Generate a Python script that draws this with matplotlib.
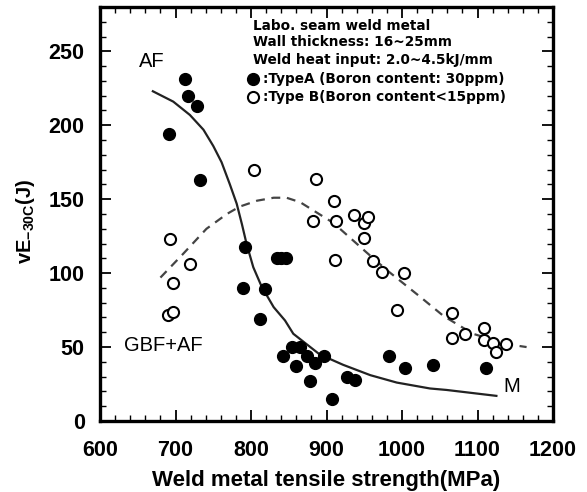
import numpy as np
import matplotlib.pyplot as plt

# ==============================
# DATA
# ==============================

# Type A (Boron 30ppm) - filled
typeA_ts = [713, 716, 729, 691, 732, 792, 790, 818, 812, 834, 840, 846,
            843, 854, 865, 874, 860, 885, 897, 878, 907, 927, 938,
            983, 1004, 1041, 1111]
typeA_ve = [231, 220, 213, 194, 163, 118, 90, 89, 69, 110, 110, 110,
            44, 50, 50, 44, 37, 39, 44, 27, 15, 30, 28,
            44, 36, 38, 36]

# Type B (Boron <15ppm) - open
typeB_ts = [804, 886, 910, 882, 912, 937, 949, 955, 950, 693, 719, 697,
            690, 697, 911, 962, 974, 1002, 993, 1066, 1066, 1083, 1108,
            1108, 1121, 1125, 1138]
typeB_ve = [170, 164, 149, 135, 135, 139, 134, 138, 124, 123, 106, 93,
            72, 74, 109, 108, 101, 100, 75, 73, 56, 59, 63,
            55, 53, 47, 52]

# trend lines
af_ts = [670, 697, 719, 737, 750, 761, 772, 781, 788, 794, 803, 814, 830, 845,
         856, 891, 922, 958, 993, 1037, 1059, 1125]
af_ve = [223, 216, 207, 197, 186, 175, 160, 147, 133, 120, 104, 91, 77, 68,
         59, 45, 38, 31, 26, 22, 21, 17]

gbf_ts = [680, 710, 741, 768, 785, 808, 830, 847, 865, 887, 909, 931, 953, 980,
          1024, 1055, 1094, 1139, 1165]
gbf_ve = [97, 113, 130, 140, 145, 149, 151, 151, 148, 141, 134, 124, 114, 102,
          84, 71, 59, 52, 50]

xticks = [600, 700, 800, 900, 1000, 1100, 1200]
yticks = [0, 50, 100, 150, 200, 250]

# ==============================
# PLOT
# ==============================

plt.rcParams['font.family'] = ['Liberation Sans', 'DejaVu Sans']
plt.rcParams['mathtext.fontset'] = 'custom'
plt.rcParams['mathtext.rm'] = 'Liberation Sans:bold'
plt.rcParams['mathtext.bf'] = 'Liberation Sans:bold'

fig = plt.figure(figsize=(5.87, 4.92), dpi=100)
ax = fig.add_axes([0.1704, 0.1443, 0.7717, 0.8415])

ax.plot(af_ts, af_ve, color='#222222', lw=1.6)
ax.plot(gbf_ts, gbf_ve, color='#444444', lw=1.6, linestyle=(0, (4, 3)))

ax.plot(typeA_ts, typeA_ve, 'o', color='black', markersize=8.5, zorder=3)
ax.plot(typeB_ts, typeB_ve, 'o', markerfacecolor='white', markeredgecolor='black',
        markeredgewidth=1.5, markersize=8, zorder=3)

ax.set_xlim(600, 1200)
ax.set_ylim(0, 280)
ax.set_xticks(xticks)
ax.set_yticks(yticks)
ax.set_xticks(np.arange(600, 1201, 20), minor=True)
ax.set_yticks(np.arange(0, 281, 10), minor=True)
ax.tick_params(which='both', direction='in', top=True, right=True, labelsize=15.5)
ax.tick_params(axis='x', which='major', pad=14)
ax.tick_params(axis='y', which='major', pad=11)
ax.tick_params(which='major', length=8, width=1.3)
ax.tick_params(which='minor', length=4, width=1.0)
for lbl in ax.get_xticklabels() + ax.get_yticklabels():
    lbl.set_fontweight('bold')
for sp in ax.spines.values():
    sp.set_linewidth(2.4)

ax.set_xlabel('Weld metal tensile strength(MPa)', fontsize=16, fontweight='bold', labelpad=6)
ax.set_ylabel(r'vE$_{\mathbf{-30C}}$(J)', fontsize=14.5, fontweight='bold')
ax.yaxis.set_label_coords(-0.139, 0.482)

# annotations
ax.text(651, 243, 'AF', fontsize=14.5, va='center')
ax.text(632, 51, 'GBF+AF', fontsize=14.5, va='center')
ax.text(1134, 23, 'M', fontsize=14.5, va='center')

# info box text
info = ['Labo. seam weld metal', 'Wall thickness: 16~25mm', 'Weld heat input: 2.0~4.5kJ/mm']
ys = [267, 256, 244]
for t, y in zip(info, ys):
    ax.text(802, y, t, fontsize=9.8, fontweight='bold', va='center', family='DejaVu Sans')
ax.plot([802], [231], 'o', color='black', markersize=8.5)
ax.plot([802], [219], 'o', markerfacecolor='white', markeredgecolor='black',
        markeredgewidth=1.5, markersize=8)
ax.text(816, 231, ':TypeA (Boron content: 30ppm)', fontsize=9.8, fontweight='bold',
        va='center', family='DejaVu Sans')
ax.text(816, 219, ':Type B(Boron content<15ppm)', fontsize=9.8, fontweight='bold',
        va='center', family='DejaVu Sans')

plt.savefig('out.png', dpi=100)
